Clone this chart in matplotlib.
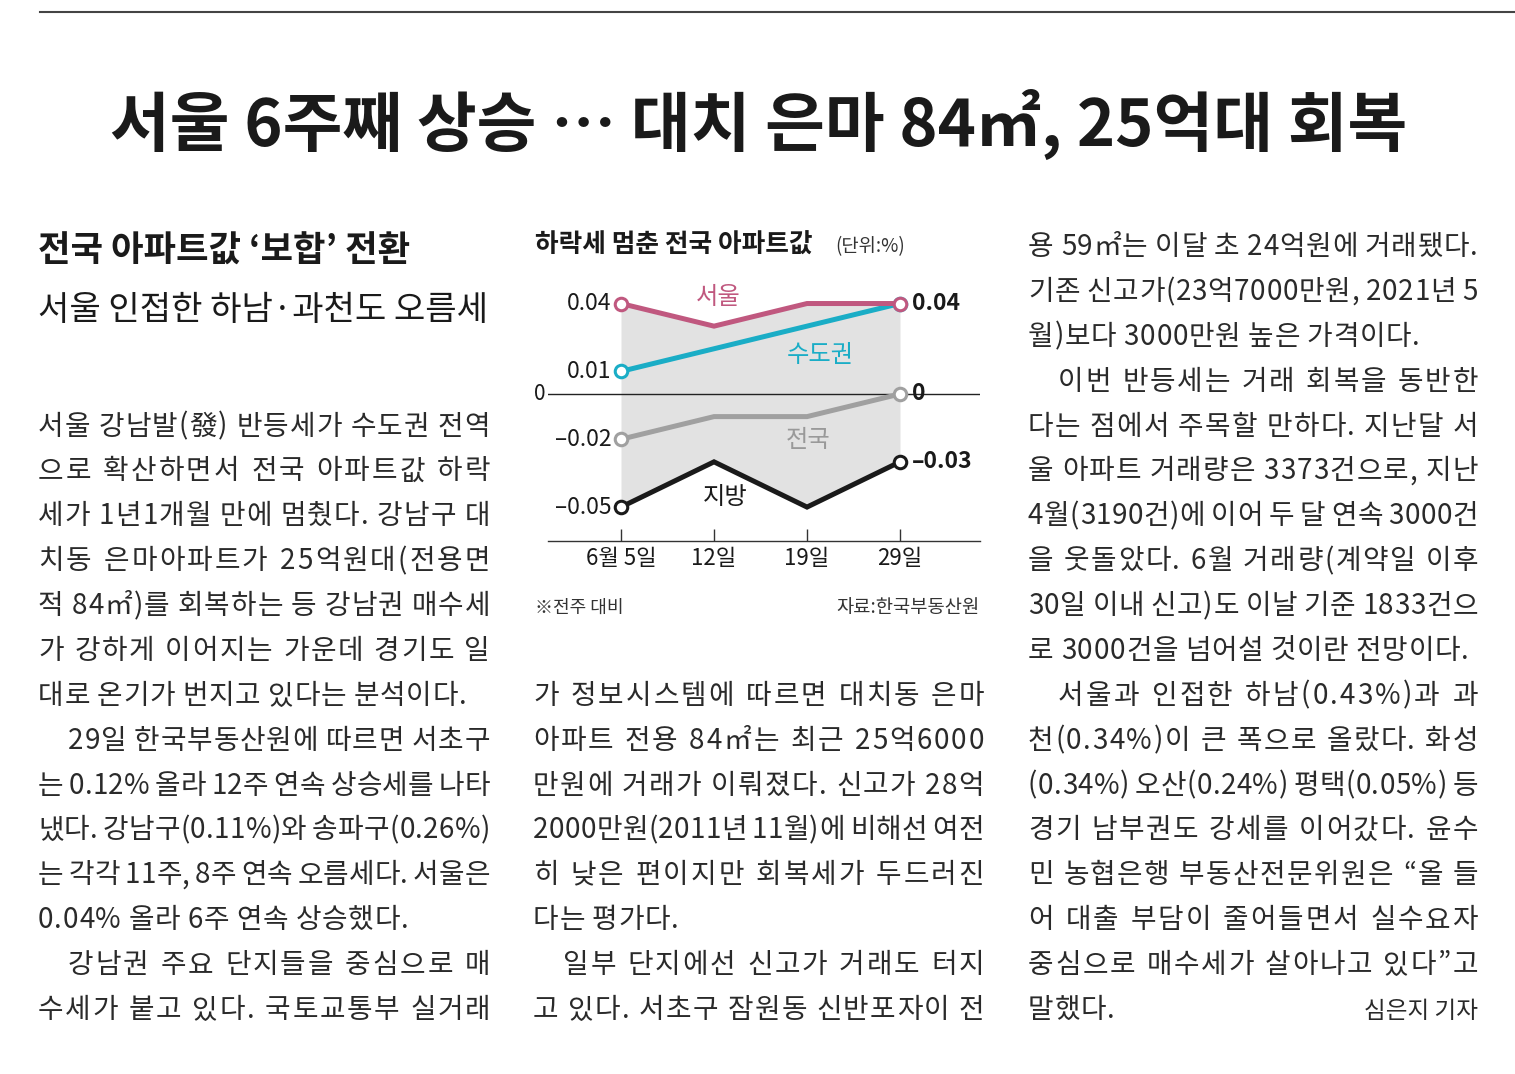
import numpy as np
import matplotlib.pyplot as plt

plt.rcParams['font.family'] = ['Noto Sans CJK KR', 'DejaVu Sans']

W, H = 1515, 1074

# chart data (주간 아파트값 변동률, %)
weeks = ['6월 5일', '12일', '19일', '29일']
seoul = [0.04, 0.03, 0.04, 0.04]
capital = [0.01, 0.02, 0.03, 0.04]
nation = [-0.02, -0.01, -0.01, 0.0]
local = [-0.05, -0.03, -0.05, -0.03]

headline = '서울 6주째 상승 … 대치 은마 84㎡, 25억대 회복'
sub1 = '전국 아파트값 ‘보합’ 전환'
sub2 = '서울 인접한 하남·과천도 오름세'

# paragraphs per column: (indent, continues_to_next_column, lines)
left_col = [
    (False, False, ['서울 강남발(發) 반등세가 수도권 전역',
                    '으로 확산하면서 전국 아파트값 하락',
                    '세가 1년1개월 만에 멈췄다. 강남구 대',
                    '치동 은마아파트가 25억원대(전용면',
                    '적 84㎡)를 회복하는 등 강남권 매수세',
                    '가 강하게 이어지는 가운데 경기도 일',
                    '대로 온기가 번지고 있다는 분석이다.']),
    (True, False, ['29일 한국부동산원에 따르면 서초구',
                   '는 0.12% 올라 12주 연속 상승세를 나타',
                   '냈다. 강남구(0.11%)와 송파구(0.26%)',
                   '는 각각 11주, 8주 연속 오름세다. 서울은',
                   '0.04% 올라 6주 연속 상승했다.']),
    (True, True, ['강남권 주요 단지들을 중심으로 매',
                  '수세가 붙고 있다. 국토교통부 실거래']),
]
mid_col = [
    (False, False, ['가 정보시스템에 따르면 대치동 은마',
                    '아파트 전용 84㎡는 최근 25억6000',
                    '만원에 거래가 이뤄졌다. 신고가 28억',
                    '2000만원(2011년 11월)에 비해선 여전',
                    '히 낮은 편이지만 회복세가 두드러진',
                    '다는 평가다.']),
    (True, True, ['일부 단지에선 신고가 거래도 터지',
                  '고 있다. 서초구 잠원동 신반포자이 전']),
]
right_col = [
    (False, False, ['용 59㎡는 이달 초 24억원에 거래됐다.',
                    '기존 신고가(23억7000만원, 2021년 5',
                    '월)보다 3000만원 높은 가격이다.']),
    (True, False, ['이번 반등세는 거래 회복을 동반한',
                   '다는 점에서 주목할 만하다. 지난달 서',
                   '울 아파트 거래량은 3373건으로, 지난',
                   '4월(3190건)에 이어 두 달 연속 3000건',
                   '을 웃돌았다. 6월 거래량(계약일 이후',
                   '30일 이내 신고)도 이날 기준 1833건으',
                   '로 3000건을 넘어설 것이란 전망이다.']),
    (True, False, ['서울과 인접한 하남(0.43%)과 과',
                   '천(0.34%)이 큰 폭으로 올랐다. 화성',
                   '(0.34%) 오산(0.24%) 평택(0.05%) 등',
                   '경기 남부권도 강세를 이어갔다. 윤수',
                   '민 농협은행 부동산전문위원은 “올 들',
                   '어 대출 부담이 줄어들면서 실수요자',
                   '중심으로 매수세가 살아나고 있다”고',
                   '말했다.']),
]
byline = '심은지 기자'

fig = plt.figure(figsize=(W / 100, H / 100), dpi=100)
fig.patch.set_facecolor('white')
renderer = fig.canvas.get_renderer()


def fx(x):
    return x / W


def fy(y):
    return 1 - y / H


def text_width(t):
    return t.get_window_extent(renderer=renderer).width


def fit_text(x, y, s, width, size, **kw):
    t = fig.text(fx(x), fy(y), s, va='baseline', fontsize=size, **kw)
    t.set_fontsize(size * width / text_width(t))
    return t


# top rule
fig.add_artist(plt.Line2D([fx(40), 1], [fy(12), fy(12)], color='#444444', lw=1.5))

fit_text(759, 146, headline, 1298, 44, ha='center', weight='bold', color='#1a1a1a')
fit_text(38, 262, sub1, 372, 22, ha='left', weight='bold', color='#1a1a1a')
fit_text(38, 320, sub2, 450, 23, ha='left', color='#1a1a1a')

BODY_SIZE = 20
em = BODY_SIZE * 100 / 72
LINE0, STEP = 245, 44.88
CHAR_GAP, WORD_GAP, WORD_WEIGHT = 0.03 * em, 0.26 * em, 4.0
_wcache = {}


def char_width(c):
    if c not in _wcache:
        t = fig.text(0, 0, c, fontsize=BODY_SIZE)
        _wcache[c] = text_width(t)
        t.remove()
    return _wcache[c]


def draw_line(x0, x1, yc, s, justify):
    # place each character; justified lines spread mostly at word gaps
    base = yc + 0.36 * em
    glyphs, gaps, weights = [], [], []
    pending_space = False
    for c in s:
        if c == ' ':
            pending_space = True
            continue
        if glyphs:
            gaps.append(WORD_GAP if pending_space else CHAR_GAP)
            weights.append(WORD_WEIGHT if pending_space else 1.0)
        glyphs.append(c)
        pending_space = False
    widths = [char_width(c) for c in glyphs]
    unit = 0.0
    if justify and gaps:
        unit = (x1 - x0 - sum(widths) - sum(gaps)) / sum(weights)
    x = x0
    for i, c in enumerate(glyphs):
        fig.text(fx(x), fy(base), c, ha='left', va='baseline',
                 fontsize=BODY_SIZE, color='#2a2a2a')
        x += widths[i]
        if i < len(gaps):
            x += gaps[i] + unit * weights[i]


def draw_column(paras, x0, x1, k0):
    k = k0
    for indent, cont, lines in paras:
        for i, s in enumerate(lines):
            last = i == len(lines) - 1
            start = x0 + (30 if (indent and i == 0) else 0)
            draw_line(start, x1, LINE0 + STEP * k, s, justify=(not last) or cont)
            k += 1
    return k


draw_column(left_col, 38, 490, 4)
draw_column(mid_col, 533, 984, 10)
draw_column(right_col, 1028, 1478, 0)
fig.text(fx(1478), fy(LINE0 + STEP * 17 + 0.36 * em), byline, ha='right',
         va='baseline', fontsize=17, color='#2a2a2a')

# ---- chart ----
fig.text(fx(535), fy(253), '하락세 멈춘 전국 아파트값', ha='left', va='baseline',
         fontsize=18.5, weight='bold', color='#1a1a1a')
fig.text(fx(835), fy(252), '(단위:%)', ha='left', va='baseline',
         fontsize=13.5, color='#333333')
fig.text(fx(535), fy(613), '※전주 대비', ha='left', va='baseline',
         fontsize=13, color='#333333')
fig.text(fx(980), fy(613), '자료:한국부동산원', ha='right', va='baseline',
         fontsize=13.5, color='#333333')

ax = fig.add_axes([fx(548), fy(541), (980 - 548) / W, (541 - 280) / H])
x = np.arange(len(weeks))
ax.set_xlim(-0.785, 3.86)
ax.set_ylim(-0.065, 0.0504)
ax.patch.set_alpha(0)

ax.fill_between(x, seoul, local, color='#e2e2e2', lw=0, zorder=1)
ax.axhline(0, color='#222222', lw=1, zorder=2)

c_seoul, c_cap, c_nat, c_loc = '#c0587f', '#1aadc6', '#a0a0a0', '#1a1a1a'
for vals, col in [(capital, c_cap), (seoul, c_seoul), (nation, c_nat), (local, c_loc)]:
    ax.plot(x, vals, color=col, lw=3.6, marker='o', markevery=[0, 3], ms=9,
            mfc='white', mec=col, mew=2.2, zorder=3, solid_joinstyle='miter')

# left value labels
for v, s in [(seoul[0], '0.04'), (capital[0], '0.01'), (nation[0], '–0.02'), (local[0], '–0.05')]:
    ax.text(-0.1, v, s, ha='right', va='center', fontsize=16.5, color='#1a1a1a')
ax.text(-0.815, 0, '0', ha='right', va='center', fontsize=15, color='#1a1a1a', clip_on=False)
# right value labels
for v, s in [(seoul[3], '0.04'), (nation[3], '0'), (local[3], '–0.03')]:
    ax.text(3.13, v, s, ha='left', va='center', fontsize=16.5, weight='bold',
            color='#1a1a1a', clip_on=False)

ax.text(1.04, 0.0429, '서울', ha='center', va='center', fontsize=17.5, color=c_seoul)
ax.text(2.14, 0.0173, '수도권', ha='center', va='center', fontsize=17.5, color=c_cap)
ax.text(2.01, -0.0204, '전국', ha='center', va='center', fontsize=17.5, color='#999999')
ax.text(1.12, -0.0456, '지방', ha='center', va='center', fontsize=17.5, color=c_loc)

for side in ['top', 'left', 'right']:
    ax.spines[side].set_visible(False)
ax.spines['bottom'].set_color('#333333')
ax.spines['bottom'].set_linewidth(1)
ax.set_yticks([])
ax.set_xticks(x)
ax.set_xticklabels(weeks)
ax.tick_params(axis='x', direction='in', length=9, width=1, color='#333333',
               labelsize=16, pad=4, labelcolor='#1a1a1a')

fig.savefig('out.png', dpi=100, facecolor='white')
